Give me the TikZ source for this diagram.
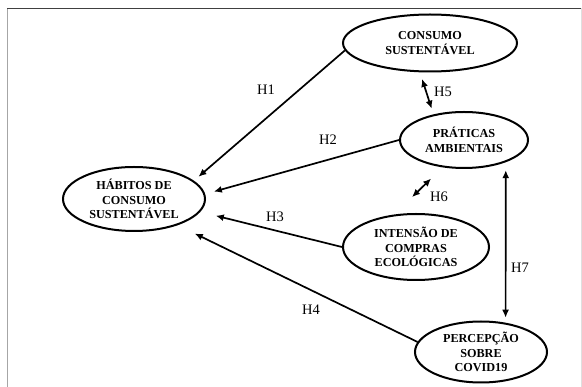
\documentclass[tikz,border=0pt]{standalone}
\usepackage{fontspec}
\setmainfont{Liberation Serif}
\usetikzlibrary{shapes.geometric,arrows.meta}

\begin{document}
\begin{tikzpicture}[x=1pt,y=-1pt,
  var/.style={draw,ellipse,line width=2pt,inner sep=0pt,align=center,
              font=\fontsize{12.2}{14.5}\selectfont\bfseries},
  hyp/.style={-{Latex[length=8pt,width=7pt]},line width=1.7pt},
  both/.style={{Latex[length=8pt,width=7pt]}-{Latex[length=8pt,width=7pt]},line width=1.7pt},
  lbl/.style={font=\fontsize{14.5}{16}\selectfont,inner sep=0pt}]
\useasboundingbox (0,0) rectangle (582,387);

% moldura
\draw[gray!70,line width=1.2pt] (7.5,395) -- (7.5,8.5);
\draw[black!75,line width=1.2pt] (7,8.5) -- (582,8.5);
\draw[gray!25,line width=0.8pt] (581,8.5) -- (581,395);

% construtos
\node[var,minimum width=174pt,minimum height=57pt] (cs) at (430,43) {CONSUMO\\SUSTENTÁVEL};
\node[var,minimum width=128pt,minimum height=56pt] (pa) at (464,140) {PRÁTICAS\\AMBIENTAIS};
\node[var,minimum width=142pt,minimum height=64pt] (hab) at (134,199) {HÁBITOS DE\\CONSUMO\\SUSTENTÁVEL};
\node[var,minimum width=146pt,minimum height=66pt] (int) at (416,247) {INTENSÃO DE\\COMPRAS\\ECOLÓGICAS};
\node[var,minimum width=132pt,minimum height=61pt] (perc) at (481,352) {PERCEPÇÃO\\SOBRE\\COVID19};

% hipoteses
\foreach \from/\to/\gap in {cs.185/hab.17/6, pa.180/hab.4/9, int.180/hab.-11.5/16, perc.171/hab.-31/19}
  \draw[hyp,shorten >=\gap pt] (\from) -- (\to);
\draw[both,shorten <=7pt,shorten >=6pt] (cs.251) -- (pa.140);
\draw[both,shorten <=25pt,shorten >=16pt] (int.124) -- (pa.232);
\draw[both,shorten <=8pt,shorten >=5pt] (pa.-28) -- (perc.50);

\node[lbl] (h1) at (266,90) {H1};
\node[lbl] (h2) at (328,140) {H2};
\node[lbl] (h3) at (275,217) {H3};
\node[lbl] (h4) at (311,310) {H4};
\node[lbl] (h5) at (443,92) {H5};
\node[lbl] (h6) at (439,197) {H6};
\node[lbl] (h7) at (520,268) {H7};
\end{tikzpicture}
\end{document}
